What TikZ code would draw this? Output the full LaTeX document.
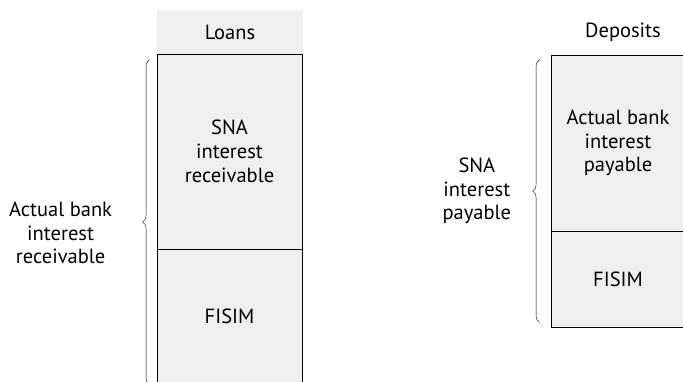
\documentclass[tikz,border=0pt]{standalone}
\usepackage{fontspec}
\setmainfont{PT Sans}
\usetikzlibrary{decorations.pathreplacing}
\definecolor{boxgray}{HTML}{EFEFEF}
\tikzstyle{part} = [draw, thick, fill=boxgray, rectangle, align=center, inner sep=0pt]
\tikzstyle{label} = [align=center]
\tikzstyle{curly} = [decorate, decoration={brace, amplitude=7pt}, thin]

\begin{document}
\begin{tikzpicture}[x=1pt, y=-1pt, every node/.style={font=\fontsize{20.5}{23.7}\selectfont}]
  \useasboundingbox (0,0) rectangle (683,381);
  % loans side
  \node[fill=boxgray, minimum width=146pt, minimum height=44pt] (loanshead) at (230,32) {Loans};
  \node[part, minimum width=145pt, minimum height=195pt, label] (sna) at (229.5,151.5) {SNA\\interest\\receivable};
  \node[part, minimum width=145pt, minimum height=134pt, label] (fisimL) at (229.5,316) {FISIM};
  \coordinate (braceLtop) at ([xshift=-7pt,yshift=-6pt]sna.north west);
  \coordinate (braceLbot) at ([xshift=-7pt,yshift=-1pt]fisimL.south west);
  \draw[curly] (braceLbot) -- (braceLtop) node[midway, left=34pt, yshift=-11pt, label] (actual) {Actual bank\\interest\\receivable};
  % deposits side
  \node (dephead) at (623,32) {Deposits};
  \node[part, minimum width=134pt, minimum height=176pt, label] (actualdep) at (618,143) {Actual bank\\interest\\payable};
  \node[part, minimum width=134pt, minimum height=96pt, label] (fisimR) at (618,279) {FISIM};
  \coordinate (braceRtop) at ([xshift=-11pt,yshift=-5pt]actualdep.north west);
  \coordinate (braceRbot) at ([xshift=-11pt,yshift=5pt]fisimR.south west);
  \draw[curly] (braceRbot) -- (braceRtop) node[midway, left=25pt, label] (snapay) {SNA\\interest\\payable};
\end{tikzpicture}
\end{document}
